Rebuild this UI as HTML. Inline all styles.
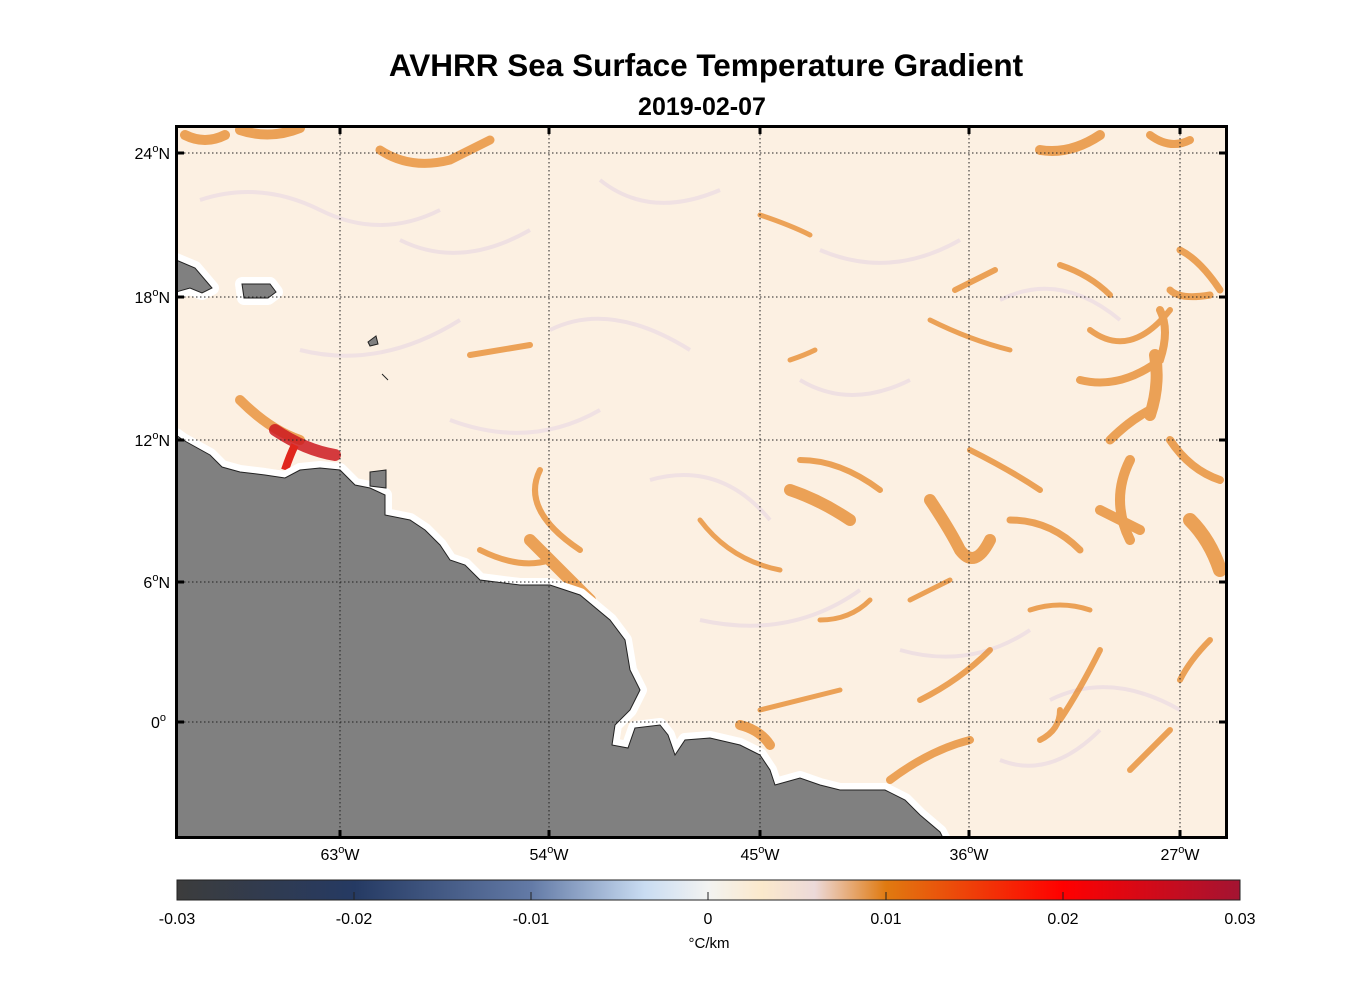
<!DOCTYPE html>
<html><head><style>
body{margin:0;background:#fff;}
svg text{font-family:"Liberation Sans",sans-serif;}
</style></head><body>
<svg width="1356" height="1000" viewBox="0 0 1356 1000" xmlns="http://www.w3.org/2000/svg">
<defs>
<linearGradient id="cb" x1="0" x2="1" y1="0" y2="0">
<stop offset="0" stop-color="#3c3c3c"/>
<stop offset="0.167" stop-color="#253a63"/>
<stop offset="0.333" stop-color="#637aa6"/>
<stop offset="0.44" stop-color="#c9dcf2"/>
<stop offset="0.5" stop-color="#f3f3f1"/>
<stop offset="0.55" stop-color="#fbe9cc"/>
<stop offset="0.6" stop-color="#ecd9d9"/>
<stop offset="0.667" stop-color="#e07a10"/>
<stop offset="0.833" stop-color="#ff0000"/>
<stop offset="1" stop-color="#a31432"/>
</linearGradient>
<clipPath id="mp"><rect x="176" y="126" width="1051" height="712"/></clipPath>
</defs>
<text x="706" y="76" text-anchor="middle" font-size="31.5" font-weight="bold">AVHRR Sea Surface Temperature Gradient</text>
<text x="702" y="115" text-anchor="middle" font-size="25" font-weight="bold">2019-02-07</text>
<g clip-path="url(#mp)">
<rect x="176" y="126" width="1051" height="712" fill="#fcf0e2"/>
<g fill="none" stroke="#ecdde3" stroke-width="4" opacity="0.8">
<path d="M200 200 q60 -20 120 10 t120 0"/><path d="M400 240 q60 30 130 -10"/><path d="M600 180 q50 40 120 10"/>
<path d="M300 350 q80 20 160 -30"/><path d="M550 330 q60 -30 140 20"/><path d="M450 420 q80 30 150 -10"/>
<path d="M650 480 q70 -20 120 40"/><path d="M700 620 q90 20 160 -30"/><path d="M500 650 q60 -20 110 30"/>
<path d="M820 250 q70 30 140 -10"/><path d="M1000 300 q60 -30 120 20"/><path d="M900 650 q70 20 130 -20"/>
<path d="M1050 700 q60 -30 130 10"/><path d="M800 380 q50 30 110 0"/><path d="M1000 760 q50 20 100 -30"/>
</g>
<g fill="none" stroke="#e5801c" stroke-linecap="round" opacity="0.7">
<path d="M185 135 q20 10 40 0 M240 130 q30 10 60 -2" stroke-width="10"/>
<path d="M380 150 q30 20 70 10 q20 -10 40 -20" stroke-width="9"/>
<path d="M1040 150 q30 5 60 -15" stroke-width="10"/>
<path d="M1150 135 q20 15 40 5" stroke-width="8"/>
<path d="M240 400 q30 30 60 40" stroke-width="10"/>
<path d="M470 355 q30 -5 60 -10" stroke-width="6"/>
<path d="M760 215 q30 10 50 20" stroke-width="5"/>
<path d="M790 360 q15 -5 25 -10" stroke-width="5"/>
<path d="M955 290 q20 -10 40 -20 M1060 265 q30 10 50 30" stroke-width="6"/>
<path d="M930 320 q40 20 80 30" stroke-width="5"/>
<path d="M1090 330 q40 30 80 -20" stroke-width="6"/>
<path d="M1080 380 q40 10 80 -20 q10 -30 0 -50" stroke-width="8"/>
<path d="M1155 355 q5 30 -5 60" stroke-width="12"/>
<path d="M1180 250 q20 10 40 40 M1170 290 q10 10 40 5" stroke-width="7"/>
<path d="M1110 440 q20 -20 40 -30" stroke-width="9"/>
<path d="M1130 460 q-20 40 0 80" stroke-width="10"/>
<path d="M1170 440 q20 30 50 40" stroke-width="8"/>
<path d="M1190 520 q20 20 30 50" stroke-width="14"/>
<path d="M1100 510 q20 10 40 20" stroke-width="10"/>
<path d="M970 450 q40 20 70 40" stroke-width="6"/>
<path d="M790 490 q30 10 60 30" stroke-width="12"/>
<path d="M800 460 q40 0 80 30" stroke-width="6"/>
<path d="M930 500 q20 30 30 50 q15 20 30 -10" stroke-width="12"/>
<path d="M1010 520 q40 0 70 30" stroke-width="7"/>
<path d="M530 540 q30 30 60 60" stroke-width="12"/>
<path d="M540 470 q-20 40 40 80" stroke-width="6"/>
<path d="M480 550 q40 20 70 10" stroke-width="6"/>
<path d="M700 520 q30 40 80 50" stroke-width="5"/>
<path d="M910 600 q20 -10 40 -20 M820 620 q30 0 50 -20" stroke-width="5"/>
<path d="M1030 610 q30 -10 60 0" stroke-width="5"/>
<path d="M760 710 q40 -10 80 -20" stroke-width="5"/>
<path d="M890 780 q40 -30 80 -40" stroke-width="8"/>
<path d="M920 700 q40 -20 70 -50" stroke-width="6"/>
<path d="M1100 650 q-20 40 -40 70" stroke-width="6"/>
<path d="M1040 740 q20 -10 20 -30" stroke-width="6"/>
<path d="M1130 770 q20 -20 40 -40" stroke-width="6"/>
<path d="M1180 680 q10 -20 30 -40" stroke-width="6"/>
<path d="M740 725 q20 5 30 20" stroke-width="10"/>
</g>
<path d="M275 430 q30 20 60 25" stroke="#cc1a20" stroke-width="12" fill="none" opacity="0.85" stroke-linecap="round"/>
<path d="M285 470 q5 -15 10 -25" stroke="#e0261c" stroke-width="8" fill="none"/>
<g stroke="#fff" stroke-width="14" stroke-linejoin="round" fill="#fff">
<path id="land" d="M176 435 L183 440 L210 455 L222 467 L240 472 L265 475 L285 478 L300 470 L320 468 L340 470 L355 485 L370 488 L385 495 L385 515 L410 520 L425 530 L440 545 L450 560 L465 565 L480 580 L520 585 L550 585 L580 595 L610 620 L625 640 L630 670 L640 690 L630 710 L615 725 L612 745 L628 748 L635 728 L660 725 L668 735 L675 755 L685 740 L710 738 L740 745 L760 755 L770 770 L775 785 L800 778 L820 785 L840 790 L885 790 L905 800 L920 815 L940 832 L945 842 L176 842 Z"/>
<path d="M242 284 L270 284 L276 292 L268 298 L244 298 Z"/>
<path d="M176 260 L195 268 L212 288 L202 293 L190 288 L176 292 Z"/>
</g>
<g stroke="#222" stroke-width="1" fill="#808080">
<use href="#land"/>
<path d="M242 284 L270 284 L276 292 L268 298 L244 298 Z"/>
<path d="M176 260 L195 268 L212 288 L202 293 L190 288 L176 292 Z"/>
<path d="M368 342 L376 336 L378 344 L370 346 Z"/>
<path d="M382 374 L388 380" fill="none"/>
<path d="M370 472 L386 470 L386 488 L370 486 Z"/>
</g>
<g stroke="#222" stroke-width="1" stroke-dasharray="1.5,2.5">
<line x1="176" x2="1227" y1="153" y2="153"/><line x1="176" x2="1227" y1="297" y2="297"/>
<line x1="176" x2="1227" y1="440" y2="440"/><line x1="176" x2="1227" y1="582" y2="582"/>
<line x1="176" x2="1227" y1="722" y2="722"/>
<line x1="340" x2="340" y1="126" y2="838"/><line x1="549" x2="549" y1="126" y2="838"/>
<line x1="760" x2="760" y1="126" y2="838"/><line x1="969" x2="969" y1="126" y2="838"/>
<line x1="1180" x2="1180" y1="126" y2="838"/>
</g>
</g>
<rect x="176.5" y="126.5" width="1050" height="711" fill="none" stroke="#000" stroke-width="3"/>
<g stroke="#000" stroke-width="3">
<path d="M176 153h8M176 297h8M176 440h8M176 582h8M176 722h8M1227 153h-8M1227 297h-8M1227 440h-8M1227 582h-8M1227 722h-8"/>
<path d="M340 838v-8M549 838v-8M760 838v-8M969 838v-8M1180 838v-8M340 126v8M549 126v8M760 126v8M969 126v8M1180 126v8"/>
</g>
<g font-size="16" text-anchor="end">
<text x="170" y="159">24<tspan font-size="11" dy="-7">o</tspan><tspan dy="7">N</tspan></text>
<text x="170" y="303">18<tspan font-size="11" dy="-7">o</tspan><tspan dy="7">N</tspan></text>
<text x="170" y="446">12<tspan font-size="11" dy="-7">o</tspan><tspan dy="7">N</tspan></text>
<text x="170" y="588">6<tspan font-size="11" dy="-7">o</tspan><tspan dy="7">N</tspan></text>
<text x="166" y="728">0<tspan font-size="11" dy="-7">o</tspan></text>
</g>
<g font-size="16" text-anchor="middle">
<text x="340" y="860">63<tspan font-size="11" dy="-7">o</tspan><tspan dy="7">W</tspan></text>
<text x="549" y="860">54<tspan font-size="11" dy="-7">o</tspan><tspan dy="7">W</tspan></text>
<text x="760" y="860">45<tspan font-size="11" dy="-7">o</tspan><tspan dy="7">W</tspan></text>
<text x="969" y="860">36<tspan font-size="11" dy="-7">o</tspan><tspan dy="7">W</tspan></text>
<text x="1180" y="860">27<tspan font-size="11" dy="-7">o</tspan><tspan dy="7">W</tspan></text>
</g>
<rect x="177" y="880" width="1063" height="20" fill="url(#cb)" stroke="#222" stroke-width="1"/>
<g stroke="#222"><path d="M354 900v-8M531 900v-8M708 900v-8M886 900v-8M1063 900v-8"/></g>
<g font-size="16" text-anchor="middle">
<text x="177" y="924">-0.03</text><text x="354" y="924">-0.02</text><text x="531" y="924">-0.01</text>
<text x="708" y="924">0</text><text x="886" y="924">0.01</text><text x="1063" y="924">0.02</text><text x="1240" y="924">0.03</text>
<text x="709" y="948" font-size="15">°C/km</text>
</g>
</svg>
</body></html>
